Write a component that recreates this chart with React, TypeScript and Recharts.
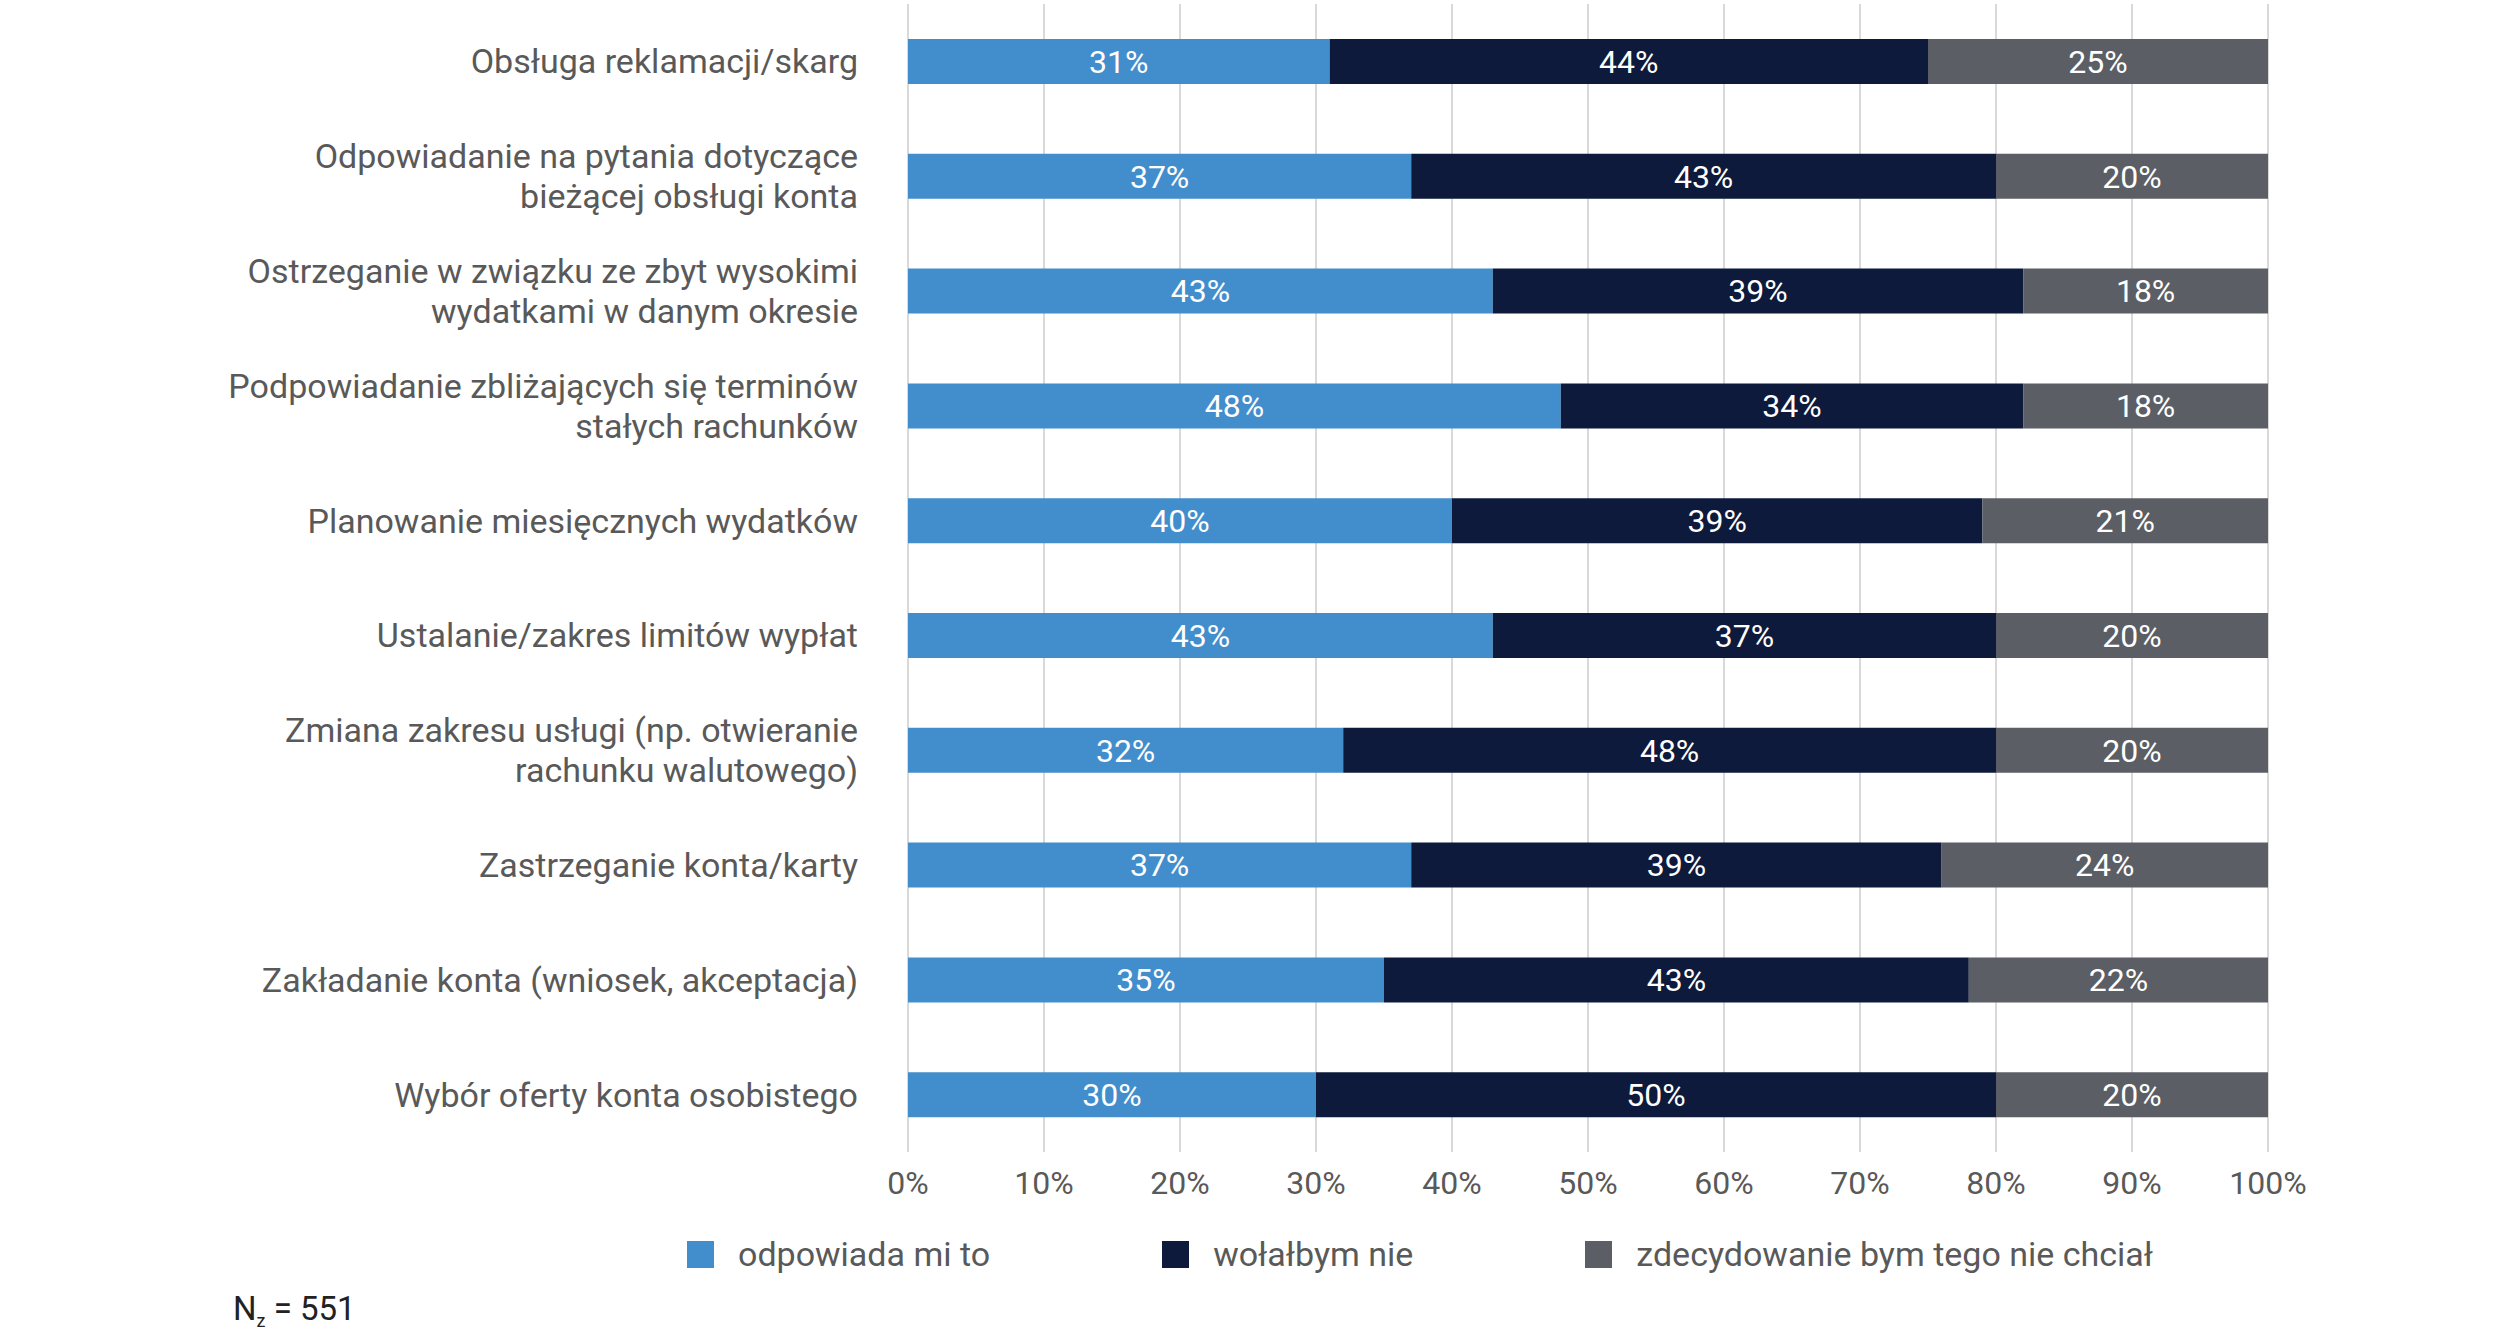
import React from 'react'
import { BarChart, Bar, XAxis, YAxis, CartesianGrid, LabelList } from 'recharts'

const categories = [
  'Obsługa reklamacji/skarg',
  'Odpowiadanie na pytania dotyczące\nbieżącej obsługi konta',
  'Ostrzeganie w związku ze zbyt wysokimi\nwydatkami w danym okresie',
  'Podpowiadanie zbliżających się terminów\nstałych rachunków',
  'Planowanie miesięcznych wydatków',
  'Ustalanie/zakres limitów wypłat',
  'Zmiana zakresu usługi (np. otwieranie\nrachunku walutowego)',
  'Zastrzeganie konta/karty',
  'Zakładanie konta (wniosek, akceptacja)',
  'Wybór oferty konta osobistego',
]

const odpowiada = [31, 37, 43, 48, 40, 43, 32, 37, 35, 30]
const wolalbym = [44, 43, 39, 34, 39, 37, 48, 39, 43, 50]
const zdecydowanie = [25, 20, 18, 18, 21, 20, 20, 24, 22, 20]

const xTicks = [0, 10, 20, 30, 40, 50, 60, 70, 80, 90, 100]

const SERIES = [
  { key: 'a', name: 'odpowiada mi to', color: '#428ECD' },
  { key: 'b', name: 'wołałbym nie', color: '#0D1A3C' },
  { key: 'c', name: 'zdecydowanie bym tego nie chciał', color: '#5B5E65' },
]

const data = categories.map((name, i) => ({
  name,
  a: odpowiada[i],
  b: wolalbym[i],
  c: zdecydowanie[i],
}))

const TEXT = '#595959'
const FONT = 'Roboto, "Noto Sans", sans-serif'

function CategoryTick({ x, y, payload }: any) {
  const lines = String(payload.value).split('\n')
  const lh = 40
  const first = y + 12 - ((lines.length - 1) * lh) / 2
  return (
    <text x={x - 50} y={first} textAnchor="end" fontSize={34} fill={TEXT} fontFamily={FONT}>
      {lines.map((l, i) => (
        <tspan key={i} x={x - 50} y={first + i * lh}>
          {l}
        </tspan>
      ))}
    </text>
  )
}

function PercentTick({ x, y, payload }: any) {
  return (
    <text x={x} y={y + 42} textAnchor="middle" fontSize={32} fill={TEXT} fontFamily={FONT}>
      {payload.value}%
    </text>
  )
}

export default function App() {
  return (
    <div
      style={{
        position: 'absolute',
        left: 0,
        top: 0,
        width: 2505,
        height: 1343,
        background: '#fff',
        fontFamily: FONT,
      }}
    >
      <BarChart
        width={2505}
        height={1343}
        data={data}
        layout="vertical"
        barSize={45}
        margin={{ top: 4, right: 237, bottom: 0, left: 0 }}
      >
        <CartesianGrid horizontal={false} stroke="#D9D9D9" strokeWidth={2} />
        <XAxis
          type="number"
          domain={[0, 100]}
          ticks={xTicks}
          interval={0}
          axisLine={false}
          tickLine={false}
          tickSize={0}
          tickMargin={0}
          height={191}
          tick={<PercentTick />}
        />
        <YAxis
          type="category"
          dataKey="name"
          width={908}
          axisLine={false}
          tickLine={false}
          tickSize={0}
          tickMargin={0}
          interval={0}
          tick={<CategoryTick />}
        />
        {SERIES.map(s => (
          <Bar key={s.key} dataKey={s.key} name={s.name} stackId="s" fill={s.color} isAnimationActive={false}>
            <LabelList
              dataKey={s.key}
              position="center"
              fill="#fff"
              fontSize={32}
              fontFamily={FONT}
              formatter={(v: any) => `${v}%`}
            />
          </Bar>
        ))}
      </BarChart>

      <div
        style={{
          position: 'absolute',
          left: 687,
          top: 1237,
          display: 'flex',
          gap: 172,
          fontSize: 34,
          lineHeight: 1,
          color: TEXT,
        }}
      >
        {SERIES.map(s => (
          <div key={s.key} style={{ display: 'flex', alignItems: 'center', height: 34 }}>
            <span style={{ width: 27, height: 27, background: s.color, marginRight: 24 }} />
            <span>{s.name}</span>
          </div>
        ))}
      </div>

      <div
        style={{
          position: 'absolute',
          left: 233,
          top: 1292,
          fontSize: 33,
          lineHeight: 1,
          color: '#222',
          whiteSpace: 'nowrap',
        }}
      >
        N<sub style={{ fontSize: 18, verticalAlign: '-0.4em' }}>z</sub> = 551
      </div>
    </div>
  )
}
